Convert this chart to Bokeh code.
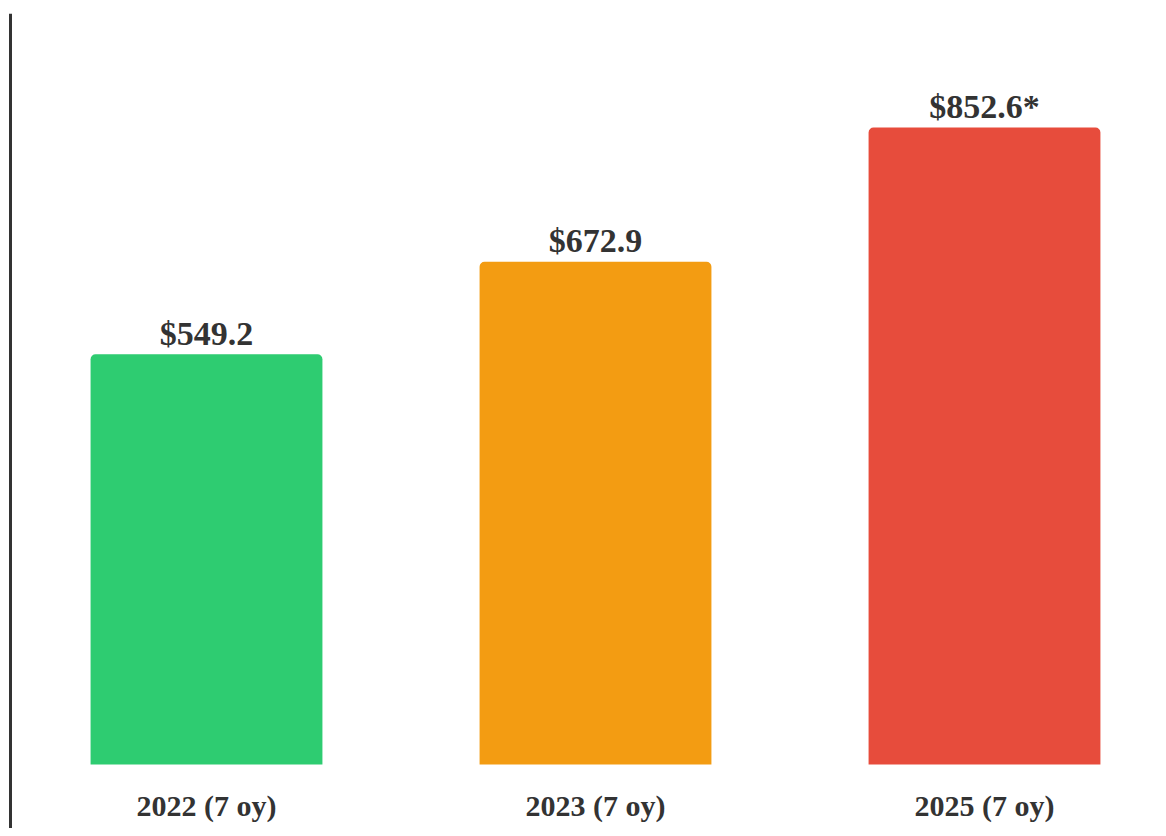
from bokeh.plotting import figure
from bokeh.models import Range1d, Span, ColumnDataSource
from bokeh.core.properties import value
from bokeh.embed import file_html
from bokeh.resources import INLINE

# Data
categories = ["2022 (7 oy)", "2023 (7 oy)", "2025 (7 oy)"]
values = [549.2, 672.9, 852.6]
value_labels = ["$549.2", "$672.9", "$852.6*"]
colors = ["#2ecc71", "#f39c12", "#e74c3c"]

positions = list(range(len(categories)))

src = ColumnDataSource(dict(x=positions, top=values, cat=categories,
                            lab=value_labels, color=colors,
                            zero=[0] * len(values)))

W, H = 1158, 828
left_pad, top_pad = 8, 13
frame_w = W - left_pad
frame_h = H - top_pad
px_per_cat = 389.0
px_per_val = 637.0 / 852.6
x_start = -(206 - left_pad) / px_per_cat
y_start = -(H - 764) / px_per_val
y_end = (764 - top_pad) / px_per_val

p = figure(width=W, height=H, output_backend="svg", toolbar_location=None,
           x_range=Range1d(x_start, x_start + frame_w / px_per_cat),
           y_range=Range1d(y_start, y_end),
           x_axis_type=None, y_axis_type=None,
           min_border_left=left_pad, min_border_right=0,
           min_border_top=top_pad, min_border_bottom=0)
p.outline_line_color = None
p.xgrid.visible = False
p.ygrid.visible = False
p.background_fill_color = "white"
p.border_fill_color = "white"

p.vbar(x="x", top="top", bottom=0, width=0.596, fill_color="color", line_color=None,
       border_radius=(5, 5, 0, 0), source=src)

p.text(x="x", y="top", text="lab", source=src, text_align="center",
       text_baseline="alphabetic", y_offset=-21, text_color="#333333",
       text_font=value("Liberation Serif"), text_font_style="bold",
       text_font_size="34px")

p.text(x="x", y="zero", text="cat", source=src, text_align="center",
       text_baseline="alphabetic", y_offset=41, text_color="#333333",
       text_font=value("Liberation Serif"), text_font_style="bold",
       text_font_size="30px")

p.add_layout(Span(location=x_start + 2 / px_per_cat, dimension="height",
                  line_color="#333333", line_width=3))

open("out.html", "w").write(file_html(p, INLINE))
